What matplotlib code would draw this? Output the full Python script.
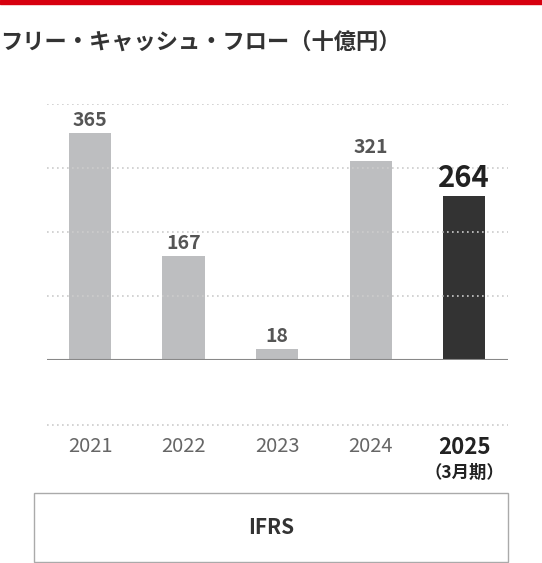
import matplotlib
matplotlib.use("Agg")
import matplotlib.pyplot as plt
from matplotlib.patches import Rectangle

plt.rcParams['font.family'] = ['Noto Sans CJK JP', 'DejaVu Sans']

years = ["2021", "2022", "2023", "2024", "2025"]
values = [365, 167, 18, 321, 264]
title = "フリー・キャッシュ・フロー（十億円）"

W, H = 542, 563
fig = plt.figure(figsize=(W/100, H/100), dpi=100)

def fy(y): return 1 - y/H
def fx(x): return x/W

fig.add_artist(Rectangle((0, fy(4)), 1, 4/H, color="#d7000f", transform=fig.transFigure))
fig.text(fx(0), fy(42), title, fontsize=16, fontweight="bold", color="#333333", va="center", ha="left")

ax = fig.add_axes([fx(47), fy(360), fx(508)-fx(47), (360-104)/H])
ax.set_xlim(-0.46, 4.47)
ax.set_ylim(0, 412)
for s in ax.spines.values():
    s.set_visible(False)
ax.set_xticks([]); ax.set_yticks([])
for g in [0.25, 0.5, 0.75, 1.0]:
    ax.axhline(412*g, color="#cccccc", lw=1.2, ls=(0, (1, 2)))
ax.axhline(0, color="#888888", lw=1.5)
colors = ["#bdbec0"]*4 + ["#333333"]
ax.bar(range(5), values, width=0.45, color=colors)
for i, v in enumerate(values):
    last = i == 4
    ax.text(i, v + 5, str(v), ha="center", va="bottom",
            fontsize=21 if last else 14, fontweight="bold",
            color="#222222" if last else "#555555", clip_on=False)

fig.add_artist(plt.Line2D([fx(47), fx(508)], [fy(425), fy(425)], color="#cccccc", lw=1.2, ls=(0, (1, 2)), transform=fig.transFigure))
for i, y in enumerate(years):
    xd = ax.transData.transform((i, 0))[0] / fig.bbox.width
    last = i == 4
    fig.text(xd, fy(447), y, ha="center", va="center", fontsize=16 if last else 14.5,
             fontweight="bold" if last else "normal", color="#222222" if last else "#666666")
    if last:
        fig.text(xd, fy(473), "（3月期）", ha="center", va="center", fontsize=12.5, fontweight="bold", color="#222222")

fig.add_artist(Rectangle((fx(34), fy(562)), fx(508)-fx(34), (562-493)/H, fill=False, ec="#aaaaaa", lw=1, transform=fig.transFigure))
fig.text((fx(34)+fx(508))/2, fy(528), "IFRS", ha="center", va="center", fontsize=15, fontweight="bold", color="#333333")

fig.savefig("out.png", dpi=100)
